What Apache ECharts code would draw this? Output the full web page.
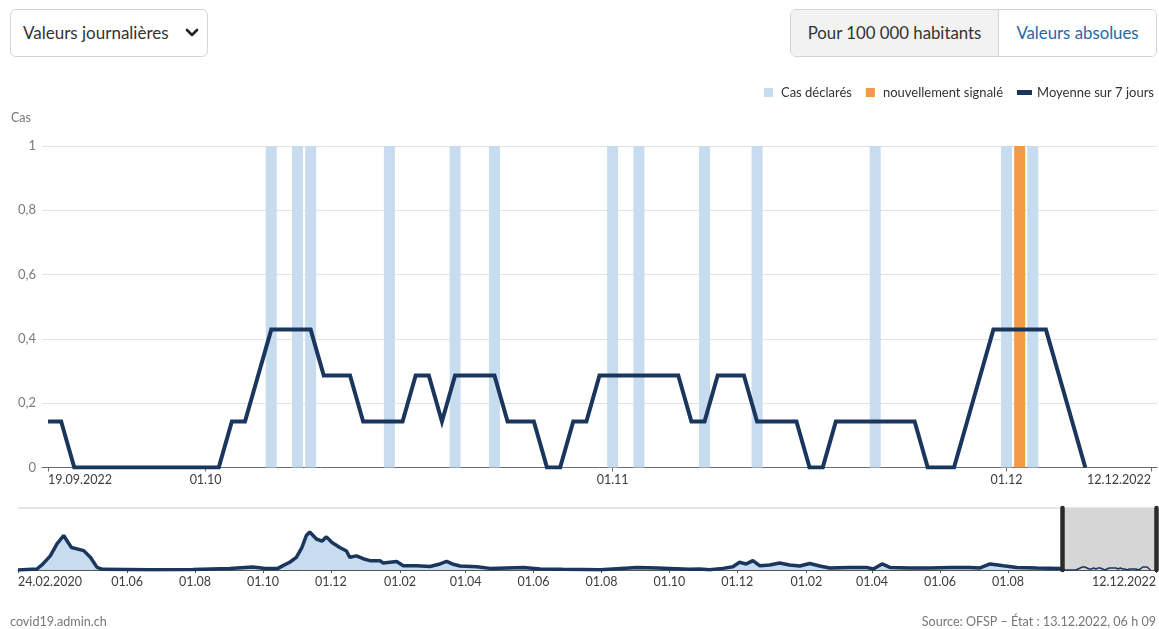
<!DOCTYPE html>
<html>
<head>
<meta charset="utf-8">
<script src="https://cdn.jsdelivr.net/npm/echarts@6/dist/echarts.min.js"></script>
<style>
html,body{margin:0;padding:0;background:#fff;font-family:Lato,"Noto Sans",sans-serif;}
#chart{position:absolute;left:0;top:0;width:1159px;height:629px;}
.dd{position:absolute;left:10px;top:9px;width:198px;height:48px;border:1px solid #d4d4d4;border-radius:6px;box-sizing:border-box;background:#fff;z-index:2;}
.dd span{position:absolute;left:12px;top:0;line-height:46px;font-size:17px;color:#333;}
.dd svg{position:absolute;left:174px;top:18px;}
.seg{position:absolute;left:790px;top:9px;width:367px;height:48px;border:1px solid #d4d4d4;border-radius:6px;box-sizing:border-box;overflow:hidden;z-index:2;display:flex;}
.seg div{height:100%;line-height:46px;font-size:16.8px;text-align:center;}
.seg .a{width:207px;background:#f2f2f2;color:#333;border-right:1px solid #d4d4d4;}
.seg .b{flex:1;background:#fff;color:#1f6aa5;}
</style>
</head>
<body>
<div id="chart"></div>
<div class="dd"><span>Valeurs journalières</span>
<svg width="14" height="10" viewBox="0 0 14 10"><polyline points="2,2 7,7 12,2" fill="none" stroke="#222" stroke-width="2.6" stroke-linecap="round" stroke-linejoin="round"/></svg></div>
<div class="seg"><div class="a">Pour 100 000 habitants</div><div class="b">Valeurs absolues</div></div>
<script>
// ---- Main chart data (one value per day, starting 19.09.2022) ----
const startDate = '19.09.2022';
const casesDaily = [0,0,0,0,0,0,0,0,0,0, 0,0,0,0,0,0,0,1,0,1, 1,0,0,0,0,0,1,0,0,0, 0,1,0,0,1,0,0,0,0,0,
                    0,0,0,1,0,1,0,0,0,0, 1,0,0,0,1,0,0,0,0,0, 0,0,0,1,0,0,0,0,0,0, 0,0,0,1,0,1,0,0,0,0,
                    0,0,0,0,0];
const newReported = [0,0,0,0,0,0,0,0,0,0, 0,0,0,0,0,0,0,0,0,0, 0,0,0,0,0,0,0,0,0,0, 0,0,0,0,0,0,0,0,0,0,
                     0,0,0,0,0,0,0,0,0,0, 0,0,0,0,0,0,0,0,0,0, 0,0,0,0,0,0,0,0,0,0, 0,0,0,0,1,0,0,0,0,0,
                     0,0,0,0,0];
const avg7 = [0.143,0.143,0,0,0,0,0,0,0,0, 0,0,0,0,0.143,0.143,0.286,0.429,0.429,0.429,
              0.429,0.286,0.286,0.286,0.143,0.143,0.143,0.143,0.286,0.286, 0.143,0.286,0.286,0.286,0.286,0.143,0.143,0.143,0,0,
              0.143,0.143,0.286,0.286,0.286,0.286,0.286,0.286,0.286,0.143, 0.143,0.286,0.286,0.286,0.143,0.143,0.143,0.143,0,0,
              0.143,0.143,0.143,0.143,0.143,0.143,0.143,0,0,0, 0.143,0.286,0.429,0.429,0.429,0.429,0.429,0.286,0.143,0];
const mainTickDates = ['19.09.2022','01.10.2022','01.11.2022','01.12.2022','12.12.2022'];
const yTicks = [0,0.2,0.4,0.6,0.8,1];

// ---- Navigator data (estimated 7-day average over the whole period, day offset from 24.02.2020) ----
const navStart = '24.02.2020';
const navDay = [0,17,22,29,35,41,45,48,53,59,65,71,76,118,157,190,211,222,233,238,244,250,255,259,262,268,273,277,282,289,295,298,304,310,316,325,328,334,340,346,358,370,379,385,390,397,412,424,454,469,489,523,556,574,603,612,621,633,642,648,654,660,666,675,684,693,702,711,720,729,747,762,768,776,783,801,819,837,855,864,873,885,897,915,936,938];
const navValue = [0,0.14,0.8,2.0,3.7,4.9,3.9,3.2,3.0,2.75,1.8,0.37,0.1,0.05,0.08,0.2,0.43,0.2,0.2,0.62,1.1,1.8,3.2,4.9,5.4,4.4,4.1,4.7,3.9,3.2,2.7,1.8,2.0,1.6,1.33,1.33,1.0,1.1,1.2,0.6,0.6,0.5,0.86,1.23,0.86,0.57,0.47,0.23,0.37,0.14,0.09,0.05,0.37,0.29,0.09,0.14,0.05,0.23,0.47,1.09,0.86,1.33,0.61,0.71,1.0,0.71,0.57,0.93,0.57,0.29,0.37,0.37,0.14,0.86,0.37,0.29,0.29,0.37,0.37,0.29,0.86,0.61,0.37,0.29,0.23,0.14];
const navTickDates = ['24.02.2020','01.06.2020','01.08.2020','01.10.2020','01.12.2020','01.02.2021','01.04.2021','01.06.2021','01.08.2021','01.10.2021','01.12.2021','01.02.2022','01.04.2022','01.06.2022','01.08.2022','12.12.2022'];
const navEndDate = '12.12.2022';

function utc(s){const p=s.split('.').map(Number);return Date.UTC(p[2],p[1]-1,p[0]);}
function dayIdx(s, base){return Math.round((utc(s)-utc(base))/864e5);}
function shortLab(s, i, n){return (i===0||i===n-1)?s:s.slice(0,5);}

const mainTickIdx = mainTickDates.map(s=>dayIdx(s,startDate));
const mainLab = {}; mainTickDates.forEach((s,i)=>{mainLab[mainTickIdx[i]]=shortLab(s,i,mainTickDates.length);});
const navTickIdx = navTickDates.map(s=>dayIdx(s,navStart));
const navLab = {}; navTickDates.forEach((s,i)=>{navLab[navTickIdx[i]]=shortLab(s,i,navTickDates.length);});
const winStart = dayIdx(startDate, navStart);
const navEnd = dayIdx(navEndDate, navStart);
const nDays = casesDaily.length;

const FONT = 'Lato';
const NAVY = '#1b365d';
const BLUE = '#c8dcf0';
const ORANGE = '#f39a43';
const SQ = 'path://M0,0H9V9H0Z';
const DASH = 'path://M0,0H12V4H0Z';

const chart = echarts.init(document.getElementById('chart'), null, {renderer:'canvas'});
chart.setOption({
  animation:false,
  textStyle:{fontFamily:FONT},
  legend:{
    data:[{name:'Cas déclarés',icon:SQ},{name:'nouvellement signalé',icon:SQ},{name:'Moyenne sur 7 jours',icon:DASH,itemStyle:{color:NAVY}}],
    right:0, top:81, itemWidth:15, itemHeight:9, itemGap:14,
    textStyle:{fontSize:13,color:'#333',fontFamily:FONT}
  },
  graphic:[
    {type:'text',left:11,top:111,style:{text:'Cas',fill:'#777',font:'12.5px Lato'}},
    {type:'text',left:10,top:615,style:{text:'covid19.admin.ch',fill:'#777',font:'12.6px Lato'}},
    {type:'text',right:3,top:615,style:{text:'Source: OFSP – État : 13.12.2022, 06 h 09',fill:'#777',font:'12.6px Lato'}}
  ],
  grid:[
    {left:42,top:146,width:1115,height:321.5},
    {left:18,top:508,width:1138,height:62}
  ],
  xAxis:[
    {type:'value',gridIndex:0,min:-0.46,max:nDays-1+0.46,
     axisLine:{show:true,onZero:false,lineStyle:{color:'#6b6b6b',width:1}},
     axisTick:{show:true,customValues:mainTickIdx,length:4,lineStyle:{color:'#6b6b6b'}},
     axisLabel:{customValues:mainTickIdx,formatter:v=>mainLab[Math.round(v)]||'',color:'#3d3d3d',fontSize:12.5,margin:6,fontFamily:FONT,alignMinLabel:'left',alignMaxLabel:'right'},
     splitLine:{show:false}},
    {type:'value',gridIndex:1,min:0,max:navEnd,
     axisLine:{show:true,onZero:false,lineStyle:{color:'#555',width:1}},
     axisTick:{show:true,customValues:navTickIdx,length:3,lineStyle:{color:'#555'}},
     axisLabel:{customValues:navTickIdx,formatter:v=>navLab[Math.round(v)]||'',color:'#3d3d3d',fontSize:12.5,margin:5,fontFamily:FONT,alignMinLabel:'left',alignMaxLabel:'right'},
     splitLine:{show:false}}
  ],
  yAxis:[
    {type:'value',gridIndex:0,min:yTicks[0],max:yTicks[yTicks.length-1],interval:0.2,
     axisLine:{show:false},axisTick:{show:false},
     axisLabel:{formatter:v=>String(Math.round(v*10)/10).replace('.',','),color:'#7a7a7a',fontSize:13,margin:6,fontFamily:FONT},
     splitLine:{lineStyle:{color:'#e3e3e3',width:1}}},
    {type:'value',gridIndex:1,min:0,max:8.8,interval:8.8,
     axisLine:{show:false},axisTick:{show:false},axisLabel:{show:false},
     splitLine:{lineStyle:{color:'#e6e6e6',width:2}}}
  ],
  series:[
    {name:'Cas déclarés',type:'bar',xAxisIndex:0,yAxisIndex:0,stack:'c',barWidth:11,
     itemStyle:{color:BLUE},data:casesDaily.map((v,i)=>[i,v])},
    {name:'nouvellement signalé',type:'bar',xAxisIndex:0,yAxisIndex:0,stack:'c',barWidth:11,
     itemStyle:{color:ORANGE},data:newReported.map((v,i)=>[i,v])},
    {name:'Moyenne sur 7 jours',type:'line',xAxisIndex:0,yAxisIndex:0,symbol:'none',z:5,
     lineStyle:{color:NAVY,width:4,join:'miter'},itemStyle:{color:NAVY},
     data:avg7.map((v,i)=>[i,v])},
    {name:'navHist',type:'line',xAxisIndex:1,yAxisIndex:1,symbol:'none',z:4,
     lineStyle:{color:NAVY,width:3.5},areaStyle:{color:BLUE,opacity:1},
     data:navDay.map((d,i)=>[d,navValue[i]])},
    {name:'navWindow',type:'line',xAxisIndex:1,yAxisIndex:1,symbol:'none',z:4,
     lineStyle:{color:NAVY,width:1.5},
     data:avg7.map((v,i)=>[winStart+i,v]),
     markArea:{silent:true,itemStyle:{color:'#d6d6d6'},data:[[{xAxis:winStart-0.5},{xAxis:navEnd}]]},
     markLine:{silent:true,symbol:'none',label:{show:false},
       lineStyle:{color:'#2b2b2b',width:4.5,type:'solid',cap:'round'},
       data:[{xAxis:winStart-0.5},{xAxis:navEnd}]}}
  ]
});
</script>
</body>
</html>
